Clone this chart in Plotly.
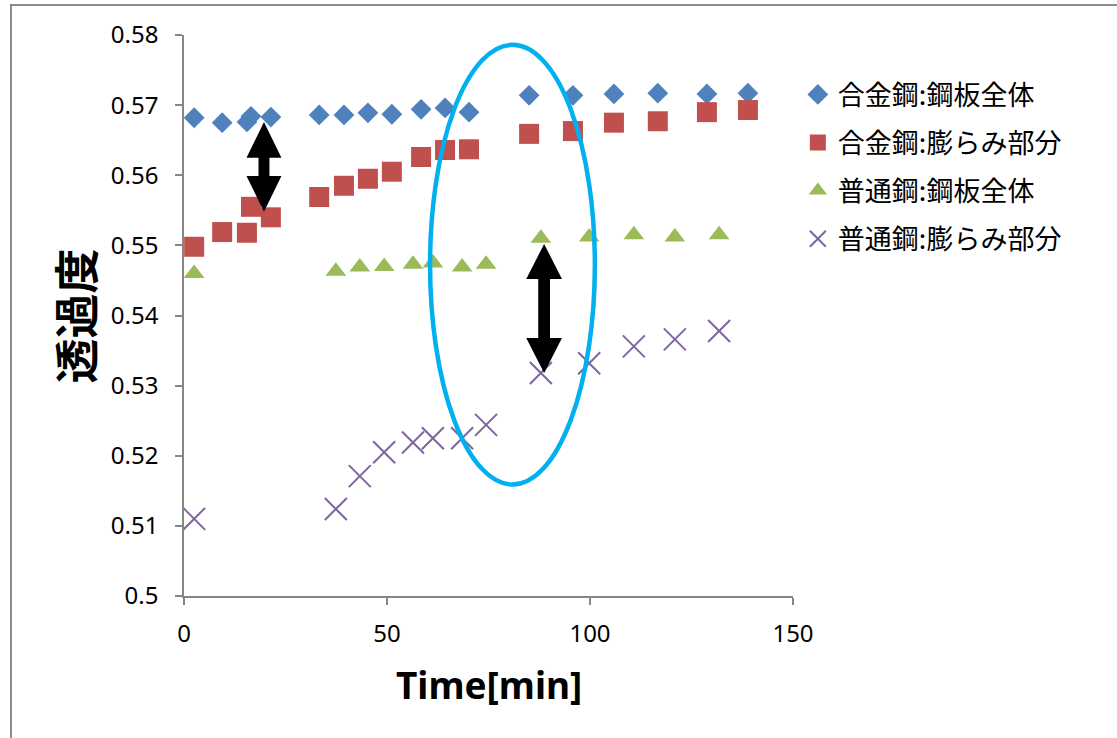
import plotly.graph_objects as go

# Transmittance vs. time for alloy steel and plain steel
alloy_time = [2.5, 9.4, 15.5, 16.5, 21.4, 33.3, 39.4, 45.3, 51.2, 58.4, 64.3, 70.2,
              85.0, 95.8, 105.9, 116.7, 128.8, 138.9]
alloy_whole = [0.5682, 0.5675, 0.5676, 0.5684, 0.5683, 0.5686, 0.5686, 0.5689, 0.5687,
               0.5694, 0.5696, 0.5690, 0.5714, 0.5714, 0.5716, 0.5717, 0.5716, 0.5717]
alloy_bulge = [0.5498, 0.5519, 0.5518, 0.5555, 0.5540, 0.5569, 0.5585, 0.5595, 0.5605,
               0.5626, 0.5636, 0.5637, 0.5659, 0.5663, 0.5675, 0.5677, 0.5690, 0.5693]

plain_time = [2.5, 37.4, 43.3, 49.3, 56.4, 61.3, 68.5, 74.4, 87.9, 99.8, 110.8, 120.9, 131.8]
plain_whole = [0.5460, 0.5463, 0.5469, 0.5470, 0.5473, 0.5475, 0.5469, 0.5473, 0.5510,
               0.5512, 0.5515, 0.5512, 0.5515]
plain_bulge = [0.5110, 0.5124, 0.5171, 0.5205, 0.5219, 0.5225, 0.5225, 0.5244, 0.5318,
               0.5332, 0.5356, 0.5366, 0.5378]

series_names = ["合金鋼:鋼板全体", "合金鋼:膨らみ部分", "普通鋼:鋼板全体", "普通鋼:膨らみ部分"]

x_ticks = [0, 50, 100, 150]
y_ticks = [0.5, 0.51, 0.52, 0.53, 0.54, 0.55, 0.56, 0.57, 0.58]
y_tick_text = ["0.5", "0.51", "0.52", "0.53", "0.54", "0.55", "0.56", "0.57", "0.58"]

BLUE, RED, GREEN, PURPLE = "#4f81bd", "#c0504d", "#9bbb59", "#8064a2"
AXIS = "#868686"

fig = go.Figure()
fig.add_trace(go.Scatter(x=alloy_time, y=alloy_whole, mode="markers", name=series_names[0],
                         legendgroup="a", marker=dict(symbol="diamond", size=16, color=BLUE)))
fig.add_trace(go.Scatter(x=alloy_time, y=alloy_bulge, mode="markers", name=series_names[1],
                         legendgroup="b", marker=dict(symbol="square", size=20, color=RED)))
fig.add_trace(go.Scatter(x=plain_time, y=plain_whole, mode="markers", name=series_names[2],
                         legendgroup="c", marker=dict(symbol="triangle-up", size=18, color=GREEN)))
fig.add_trace(go.Scatter(x=plain_time, y=plain_bulge, mode="markers", name=series_names[3],
                         legendgroup="d",
                         marker=dict(symbol="x-thin", size=22, color=PURPLE,
                                     line=dict(color=PURPLE, width=2))))


def double_arrow(xc, y_top, y_bot, head_hw, shaft_hw, head_h):
    """Closed SVG path of a vertical double-headed arrow in data units."""
    pts = [
        (xc, y_top),
        (xc + head_hw, y_top - head_h),
        (xc + shaft_hw, y_top - head_h),
        (xc + shaft_hw, y_bot + head_h),
        (xc + head_hw, y_bot + head_h),
        (xc, y_bot),
        (xc - head_hw, y_bot + head_h),
        (xc - shaft_hw, y_bot + head_h),
        (xc - shaft_hw, y_top - head_h),
        (xc - head_hw, y_top - head_h),
    ]
    return "M " + " L ".join(f"{px},{py}" for px, py in pts) + " Z"


shapes = [
    # gap arrow for alloy steel
    dict(type="path", xref="x", yref="y",
         path=double_arrow(19.7, 0.5676, 0.5548, 4.3, 1.35, 0.0051),
         fillcolor="black", line=dict(width=0)),
    # gap arrow for plain steel
    dict(type="path", xref="x", yref="y",
         path=double_arrow(88.7, 0.5502, 0.5318, 4.4, 1.45, 0.0050),
         fillcolor="black", line=dict(width=0)),
    # highlighted region
    dict(type="circle", xref="x", yref="y", x0=60.6, x1=101.2, y0=0.5159, y1=0.5786,
         line=dict(color="#00b0f0", width=4.5)),
    # outer chart frame
    dict(type="rect", xref="paper", yref="paper", x0=-0.2841, x1=1.54, y0=-0.27, y1=1.0535,
         line=dict(color="#8c8c8c", width=2), layer="below"),
]

annotations = [
    dict(text="透過度", xref="paper", yref="paper", x=-0.179, y=0.50, textangle=-90,
         showarrow=False, font=dict(family="Noto Sans CJK JP", size=45, color="black", weight="bold"),
         xanchor="center", yanchor="middle"),
    dict(text="<b>Time[min]</b>", xref="paper", yref="paper", x=0.5008, y=-0.1586,
         showarrow=False, font=dict(family="Noto Sans", size=37, color="black"),
         xanchor="center", yanchor="middle"),
]

fig.update_layout(
    width=1117, height=738,
    margin=dict(l=184, r=324, t=35, b=142),
    paper_bgcolor="white", plot_bgcolor="white",
    font=dict(family="Noto Sans, Noto Sans CJK JP", color="black"),
    shapes=shapes, annotations=annotations,
    legend=dict(x=1.008, y=0.937, xanchor="left", yanchor="top",
                font=dict(family="Noto Sans CJK JP", size=27, color="black"),
                tracegroupgap=10, itemsizing="trace", itemwidth=30,
                bgcolor="rgba(0,0,0,0)"),
    xaxis=dict(range=[0, 150], tickvals=x_ticks, showgrid=False, zeroline=False,
               showline=True, linecolor=AXIS, linewidth=1.5, ticks="outside",
               tickcolor=AXIS, ticklen=7, tickwidth=1.5, ticklabelstandoff=8,
               tickfont=dict(family="Noto Sans", size=24, color="black")),
    yaxis=dict(range=[0.5, 0.58], tickvals=y_ticks, ticktext=y_tick_text, showgrid=False,
               zeroline=False, showline=True, linecolor=AXIS, linewidth=1.5, ticks="outside",
               tickcolor=AXIS, ticklen=7, tickwidth=1.5, ticklabelstandoff=12,
               tickfont=dict(family="Noto Sans", size=24, color="black")),
)

fig.write_html("out.html")
